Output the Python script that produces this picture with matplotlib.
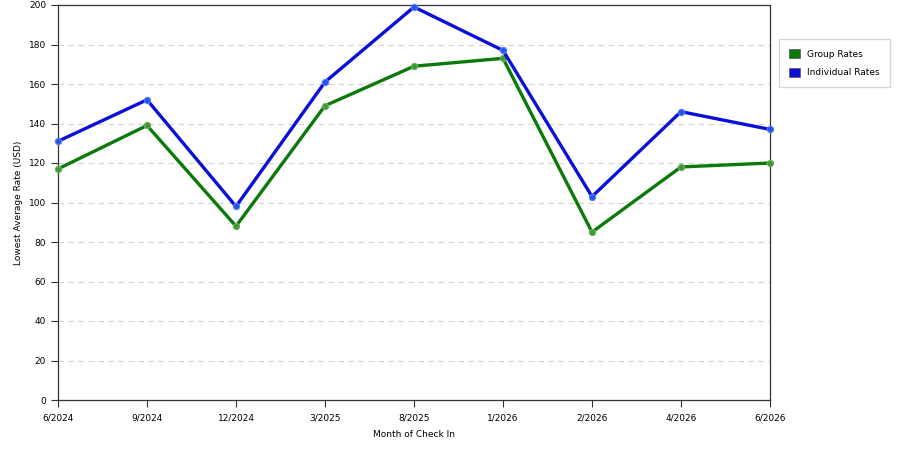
import matplotlib
matplotlib.use("Agg")
import matplotlib.pyplot as plt
from matplotlib.patches import Patch

months = ["6/2024", "9/2024", "12/2024", "3/2025", "8/2025", "1/2026", "2/2026", "4/2026", "6/2026"]
group_rates = [117, 139, 88, 149, 169, 173, 85, 118, 120]
individual_rates = [131, 152, 98, 161, 199, 177, 103, 146, 137]

green = "#0b7a0b"
blue = "#0a10d8"

fig = plt.figure(figsize=(9, 4.5), dpi=100)
ax = fig.add_axes([58 / 900, 50 / 450, 712 / 900, 395 / 450])

x = list(range(len(months)))
ax.plot(x, group_rates, c=green, lw=2.4, marker="o", ms=4.5,
        mfc="#3f9a2f", mec="#6fb060", mew=0.8, zorder=3, clip_on=False)
ax.plot(x, individual_rates, c=blue, lw=2.4, marker="o", ms=4.5,
        mfc="#2255ee", mec="#5a7ff0", mew=0.8, zorder=3, clip_on=False)

ax.set_xlim(0, len(months) - 1)
ax.set_ylim(0, 200)
ax.set_xticks(x)
ax.set_xticklabels(months)
ax.set_yticks(range(0, 201, 20))
ax.yaxis.grid(True, ls=(0, (5, 4)), color="#d4d4d4", lw=0.8)
ax.set_axisbelow(True)
ax.tick_params(axis="both", labelsize=6.5, length=5, width=0.8, color="#333333")
ax.tick_params(axis="x", pad=5)

for s in ax.spines.values():
    s.set_color("#333333")
    s.set_linewidth(0.9)

ax.set_xlabel("Month of Check In", fontsize=6.5, labelpad=5)
ax.set_ylabel("Lowest Average Rate (USD)", fontsize=6.5, labelpad=4)

handles = [Patch(facecolor=green, edgecolor="#555555", lw=0.5),
           Patch(facecolor=blue, edgecolor="#555555", lw=0.5)]
fig.legend(handles, ["Group Rates", "Individual Rates"], loc="upper left",
           bbox_to_anchor=(779 / 900, 1 - 39 / 450), borderaxespad=0,
           fontsize=6.5, frameon=True, fancybox=False, edgecolor="#cccccc",
           handlelength=1.2, handleheight=1.2, borderpad=1.1, labelspacing=1.0)

fig.savefig("out.png", dpi=100)
